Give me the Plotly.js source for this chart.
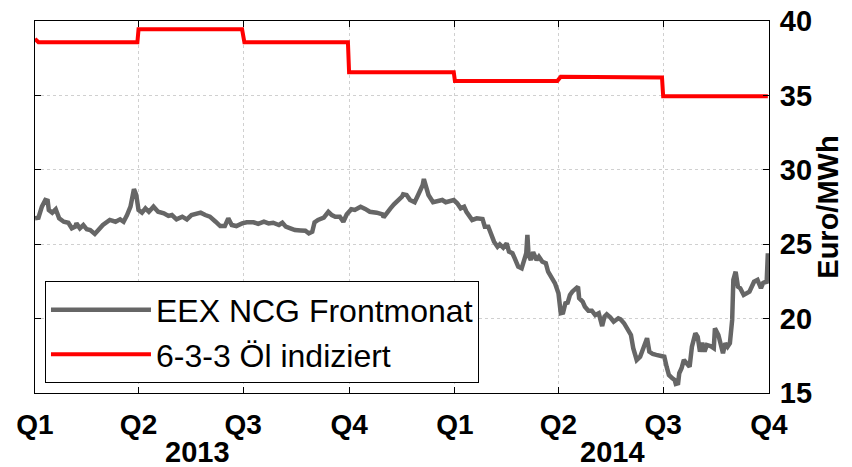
<!DOCTYPE html>
<html>
<head>
<meta charset="utf-8">
<script src="https://cdn.plot.ly/plotly-3.0.1.min.js"></script>
<style>
  html, body { margin: 0; padding: 0; background: #fff; }
  #chart { width: 852px; height: 467px; }
</style>
</head>
<body>
<div id="chart"></div>
<script>
// EEX NCG front-month gas price (Euro/MWh)
const ncgDates = [
  "2013-01-01","2013-01-04","2013-01-07","2013-01-10","2013-01-12","2013-01-13","2013-01-16","2013-01-19","2013-01-22","2013-01-26",
  "2013-01-30","2013-02-02","2013-02-05","2013-02-06","2013-02-09","2013-02-12","2013-02-15","2013-02-18","2013-02-22","2013-02-25",
  "2013-03-01","2013-03-07","2013-03-12","2013-03-16","2013-03-19","2013-03-22","2013-03-25","2013-03-28","2013-03-30","2013-04-01",
  "2013-04-04","2013-04-07","2013-04-10","2013-04-14","2013-04-18","2013-04-23","2013-04-27","2013-04-30","2013-05-04","2013-05-09",
  "2013-05-13","2013-05-17","2013-05-22","2013-05-25","2013-05-29","2013-06-02","2013-06-07","2013-06-11","2013-06-15","2013-06-18",
  "2013-06-21","2013-06-25","2013-06-30","2013-07-04","2013-07-10","2013-07-14","2013-07-19","2013-07-23","2013-07-27","2013-08-01",
  "2013-08-04","2013-08-07","2013-08-11","2013-08-15","2013-08-20","2013-08-24","2013-08-27","2013-08-30","2013-09-01","2013-09-04",
  "2013-09-09","2013-09-13","2013-09-16","2013-09-19","2013-09-23","2013-09-26","2013-09-29","2013-10-03","2013-10-06","2013-10-11",
  "2013-10-15","2013-10-19","2013-10-25","2013-10-30","2013-10-31","2013-11-03","2013-11-06","2013-11-09","2013-11-12","2013-11-16",
  "2013-11-17","2013-11-20","2013-11-23","2013-11-27","2013-11-30","2013-12-02","2013-12-04","2013-12-05","2013-12-07","2013-12-09",
  "2013-12-13","2013-12-18","2013-12-21","2013-12-24","2013-12-27","2013-12-31","2014-01-03","2014-01-06","2014-01-09","2014-01-11",
  "2014-01-16","2014-01-20","2014-01-25","2014-01-27","2014-01-30","2014-02-01","2014-02-04","2014-02-07","2014-02-09","2014-02-12",
  "2014-02-15","2014-02-17","2014-02-20","2014-02-22","2014-02-25","2014-02-28","2014-03-02","2014-03-04","2014-03-05","2014-03-06",
  "2014-03-08","2014-03-10","2014-03-13","2014-03-15","2014-03-18","2014-03-21","2014-03-23","2014-03-26","2014-03-29","2014-04-01",
  "2014-04-03","2014-04-05","2014-04-07","2014-04-09","2014-04-11","2014-04-13","2014-04-16","2014-04-18","2014-04-19","2014-04-22",
  "2014-04-24","2014-04-27","2014-04-30","2014-05-03","2014-05-06","2014-05-09","2014-05-11","2014-05-13","2014-05-16","2014-05-19",
  "2014-05-23","2014-05-25","2014-05-28","2014-05-31","2014-06-03","2014-06-05","2014-06-08","2014-06-11","2014-06-15","2014-06-17",
  "2014-06-19","2014-06-22","2014-06-25","2014-06-29","2014-07-02","2014-07-04","2014-07-06","2014-07-09","2014-07-11","2014-07-12",
  "2014-07-14","2014-07-15","2014-07-17","2014-07-19","2014-07-22","2014-07-24","2014-07-26","2014-07-29","2014-07-31","2014-08-02",
  "2014-08-04","2014-08-06","2014-08-08","2014-08-11","2014-08-14","2014-08-15","2014-08-18","2014-08-20","2014-08-22","2014-08-24",
  "2014-08-26","2014-08-28","2014-08-30","2014-08-31","2014-09-02","2014-09-04","2014-09-06","2014-09-09","2014-09-11","2014-09-14",
  "2014-09-18","2014-09-21","2014-09-24","2014-09-26","2014-09-29","2014-09-30"
];
const ncgValues = [
  26.74,26.78,27.52,27.97,27.92,27.30,27.12,27.35,26.74,26.51,
  26.44,26.07,26.18,26.40,26.07,26.29,26.00,25.95,25.69,26.00,
  26.29,26.63,26.51,26.67,26.51,26.96,27.52,28.70,28.31,27.30,
  27.12,27.41,27.18,27.52,27.18,27.08,26.90,26.96,26.67,26.85,
  26.67,26.96,27.03,27.12,26.96,26.85,26.51,26.22,26.22,26.74,
  26.29,26.22,26.40,26.47,26.47,26.36,26.51,26.40,26.44,26.29,
  26.44,26.18,26.07,25.95,25.92,25.90,25.73,25.84,26.47,26.63,
  26.78,27.18,26.96,26.85,26.85,26.51,27.01,27.35,27.30,27.52,
  27.37,27.18,27.12,27.01,26.81,27.18,27.41,27.68,27.86,28.19,
  28.35,28.31,27.97,27.82,28.31,28.58,28.98,29.38,28.71,28.31,
  27.82,27.90,27.97,27.82,27.90,27.97,27.75,27.41,27.52,27.18,
  26.63,26.74,26.69,26.18,26.18,25.73,25.17,24.83,24.99,24.77,
  25.06,24.50,24.39,24.05,23.49,23.38,23.94,24.39,25.62,24.28,
  23.94,24.46,23.94,24.16,23.82,23.72,23.15,22.71,22.37,21.70,
  20.36,20.40,21.03,21.07,21.59,21.81,22.04,22.15,21.37,21.14,
  20.80,20.53,20.53,20.24,20.36,19.50,20.13,20.29,20.09,19.79,
  20.02,19.95,19.69,19.35,18.90,18.01,17.22,17.44,18.23,18.68,
  17.78,17.62,17.56,17.49,17.44,16.77,16.21,15.99,15.88,15.61,
  15.65,16.33,16.66,17.22,17.00,16.77,18.11,19.01,18.78,17.78,
  18.38,17.78,18.23,18.16,18.01,19.35,18.90,18.34,17.67,18.34,
  18.11,18.34,19.91,22.60,23.15,22.15,22.04,21.59,21.65,21.81,
  22.48,22.60,22.04,22.41,22.48,24.39
];

// 6-3-3 oil-indexed price (Euro/MWh), quarterly steps
const oilDates = [
  "2013-01-01","2013-01-04","2013-03-31","2013-04-01","2013-06-30","2013-07-02",
  "2013-09-30","2013-10-01","2013-12-31","2014-01-01","2014-03-31","2014-04-03",
  "2014-06-30","2014-07-01","2014-09-30"
];
const oilValues = [
  38.80,38.57,38.57,39.44,39.44,38.57,
  38.57,36.55,36.55,35.97,35.97,36.26,
  36.20,34.94,34.94
];

// axis labels
const quarterTickDates = ["2013-01-01","2013-04-01","2013-07-01","2013-10-01","2014-01-01","2014-04-01","2014-07-01","2014-10-01"];
const quarterTickText = ["Q1","Q2","Q3","Q4","Q1","Q2","Q3","Q4"];
const yTickVals = [15, 20, 25, 30, 35, 40];
const yearLabels = ["2013", "2014"];
const seriesNames = ["EEX NCG Frontmonat", "6-3-3 Öl indiziert"];

const traces = [
  {
    x: ncgDates, y: ncgValues, type: "scatter", mode: "lines",
    name: seriesNames[0],
    line: { color: "#666666", width: 4.5 }
  },
  {
    x: oilDates, y: oilValues, type: "scatter", mode: "lines",
    name: seriesNames[1],
    line: { color: "#ff0000", width: 4 }
  }
];

const layout = {
  width: 852, height: 467,
  margin: { l: 35, r: 83, t: 21, b: 74 },
  paper_bgcolor: "#ffffff",
  plot_bgcolor: "#ffffff",
  font: { family: "Liberation Sans, Arial, sans-serif", color: "#000" },
  showlegend: true,
  legend: {
    x: 0.0136, y: 0.30, xanchor: "left", yanchor: "top",
    bgcolor: "#ffffff", bordercolor: "#000000", borderwidth: 1,
    font: { size: 32, family: "Liberation Sans, Arial, sans-serif", color: "#000" },
    itemwidth: 100,
    tracegroupgap: 0
  },
  xaxis: {
    type: "date",
    range: ["2013-01-01", "2014-10-01"],
    tickmode: "array",
    tickvals: quarterTickDates,
    ticktext: quarterTickText,
    ticks: "inside", ticklen: 6, tickwidth: 1, tickcolor: "#000",
    showline: true, linecolor: "#000", linewidth: 1, mirror: "allticks",
    showgrid: true, gridcolor: "#d0d0d0", griddash: "dot", gridwidth: 1,
    zeroline: false,
    tickfont: { size: 28, family: "Liberation Sans, Arial, sans-serif", color: "#000", weight: "bold" },
    ticklabelstandoff: 6
  },
  yaxis: {
    side: "right",
    range: [15, 40],
    tickmode: "array",
    tickvals: yTickVals,
    ticks: "inside", ticklen: 6, tickwidth: 1, tickcolor: "#000",
    showline: true, linecolor: "#000", linewidth: 1, mirror: "allticks",
    showgrid: true, gridcolor: "#d0d0d0", griddash: "dot", gridwidth: 1,
    zeroline: false,
    tickfont: { size: 29, family: "Liberation Sans, Arial, sans-serif", color: "#000", weight: "bold" },
    ticklabelstandoff: 4,
    title: {
      text: "Euro/MWh",
      font: { size: 29, family: "Liberation Sans, Arial, sans-serif", color: "#000", weight: "bold" },
      standoff: 4
    }
  },
  annotations: [
    { text: yearLabels[0], xref: "paper", yref: "paper", x: 0.2214, y: -0.159, xanchor: "center", yanchor: "middle",
      showarrow: false, font: { size: 29, family: "Liberation Sans, Arial, sans-serif", color: "#000", weight: "bold" } },
    { text: yearLabels[1], xref: "paper", yref: "paper", x: 0.7868, y: -0.159, xanchor: "center", yanchor: "middle",
      showarrow: false, font: { size: 29, family: "Liberation Sans, Arial, sans-serif", color: "#000", weight: "bold" } }
  ]
};

Plotly.newPlot("chart", traces, layout, { displayModeBar: false, staticPlot: true });
</script>
</body>
</html>
